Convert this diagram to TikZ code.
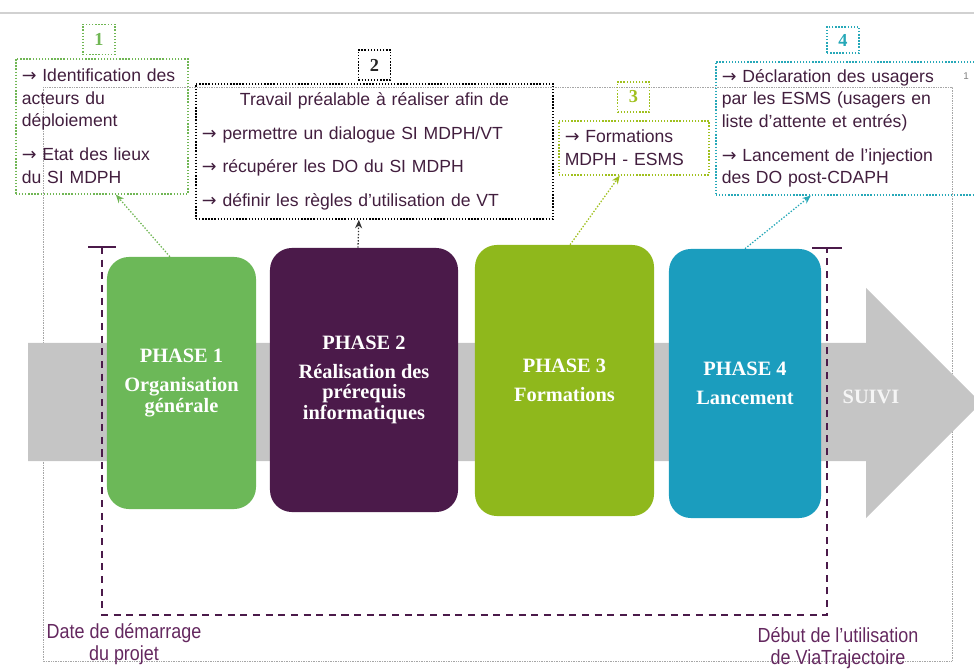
\documentclass[tikz,border=0pt]{standalone}
\usepackage{fontspec}
\setmainfont{Liberation Sans}
\newfontfamily\phasefont{Liberation Serif}
\newfontfamily\narrowfont[FakeStretch=0.88]{Liberation Sans}
\newfontfamily\arrowfont{DejaVu Sans}
\newcommand{\arr}{{\arrowfont →}}
\usepackage{tikz}
\usetikzlibrary{positioning, arrows.meta, calc}
\usepackage{xcolor}
\definecolor{phaseone}{RGB}{108, 184, 88}
\definecolor{phasetwo}{RGB}{75, 26, 74}
\definecolor{phasethree}{RGB}{143, 184, 28}
\definecolor{phasefour}{RGB}{27, 157, 190}
\definecolor{bandgray}{RGB}{197, 197, 197}
\definecolor{textpurple}{RGB}{66, 30, 62}
\definecolor{labelpurple}{RGB}{100, 40, 95}
\definecolor{notegreen}{RGB}{112, 182, 84}
\definecolor{notelime}{RGB}{160, 192, 30}
\definecolor{noteteal}{RGB}{38, 168, 184}

\begin{document}
\begin{tikzpicture}[
    x=0.025cm, y=-0.025cm,
    phase/.style={rounded corners=0.55cm, text=white, align=center, font=\phasefont\bfseries\fontsize{14.5}{14.5}\selectfont},
    note/.style={draw, line width=1.1pt, dash pattern=on 1pt off 1.2pt, anchor=north west, align=left, inner xsep=0.15cm, text=textpurple, font=\fontsize{12.5}{16}\selectfont},
    tag/.style={draw, line width=1.1pt, dash pattern=on 1pt off 1.2pt, minimum width=0.8cm, minimum height=0.75cm, inner sep=0pt, font=\phasefont\bfseries\fontsize{13}{13}\selectfont},
    link/.style={line width=0.9pt, dash pattern=on 1pt off 1.2pt, -{Stealth[length=6pt, width=5pt]}},
    bracket/.style={draw=phasetwo, line width=1.3pt}
]
    \clip (0,0) rectangle (974,669);

    % Frame and top rule
    \draw[black!18, line width=1.8pt] (0,13) -- (974,13);
    \draw[gray!70, line width=0.4pt, dash pattern=on 0.5pt off 0.7pt] (43,87) rectangle (952,661);
    \node[text=gray, font=\fontsize{7}{7}\selectfont] (pagenum) at (966,76) {1};

    % Timeline arrow
    \fill[bandgray] (28,343) -- (866,343) -- (866,288) -- (981,403) -- (866,518) -- (866,461) -- (28,461) -- cycle;
    \node[phase, text=white!92!gray] (suivi) at (871,397) {SUIVI};

    % Phases
    \foreach \n/\cx/\cy/\w/\h/\col/\txt in {
        1/181.5/383/3.725/6.3/phaseone/{PHASE 1\\[6pt]Organisation\\générale},
        2/364/380/4.7/6.6/phasetwo/{PHASE 2\\[6pt]Réalisation des\\prérequis\\informatiques},
        3/564.5/380.5/4.475/6.775/phasethree/{PHASE 3\\[6pt]Formations},
        4/745/383.5/3.8/6.725/phasefour/{PHASE 4\\[6pt]Lancement}} {
        \node[phase, fill=\col, minimum width=\w cm, minimum height=\h cm] (p\n) at (\cx,\cy) {\txt};
    }

    % Notes
    \node[note, draw=notegreen, text width=4.0cm, minimum height=3.375cm] (note1) at (15,58)
        {\arr{} Identification des\\acteurs du\\déploiement\\[8pt]\arr{} Etat des lieux\\du SI MDPH};
    \node[note, draw=black, line width=1.3pt, text width=8.625cm, minimum height=3.375cm, font=\fontsize{12.5}{24}\selectfont] (note2) at (195,83)
        {\makebox[\linewidth][c]{Travail préalable à réaliser afin de}\\\arr{} permettre un dialogue SI MDPH/VT\\\arr{} récupérer les DO du SI MDPH\\\arr{} définir les règles d’utilisation de VT};
    \node[note, draw=notelime, text width=3.45cm, minimum height=1.35cm] (note3) at (558,120)
        {\arr{} Formations\\MDPH - ESMS};
    \node[note, draw=noteteal, text width=6.45cm, minimum height=3.325cm] (note4) at (715,61)
        {\arr{} Déclaration des usagers\\par les ESMS (usagers en\\liste d’attente et entrés)\\[8pt]\arr{} Lancement de l’injection\\des DO post-CDAPH};

    % Number tags
    \node[tag, draw=notegreen, text=notegreen] (tag1) at (99,39.5) {1};
    \node[tag, draw=black, text=black!85] (tag2) at (374.5,65) {2};
    \node[tag, draw=notelime, text=notelime] (tag3) at (633.5,97) {3};
    \node[tag, draw=noteteal, text=noteteal, minimum height=0.65cm] (tag4) at (843,40) {4};

    % Links from phases to notes
    \draw[link, notegreen] ([xshift=-0.29cm]p1.north) -- ([xshift=0.35cm]note1.south);
    \draw[link, black!80] ([xshift=-0.15cm]p2.north) -- ([xshift=-0.39cm]note2.south);
    \draw[link, notelime] ([xshift=0.14cm]p3.north) -- ([xshift=-0.35cm]note3.south);
    \draw[link, noteteal] (p4.north) -- ([xshift=-1cm]note4.south);

    % Project span
    \draw[bracket] (88,247) -- (116,247);
    \draw[bracket] (812,248) -- (842,248);
    \draw[bracket, dash pattern=on 5pt off 4pt] (102,247) -- (102,615) -- (827,615) -- (827,248);

    % Milestones
    \node[text=labelpurple, align=center, font=\narrowfont\fontsize{14.5}{15.6}\selectfont] (start) at (124,644) {Date de démarrage\\du projet};
    \node[text=labelpurple, align=center, font=\narrowfont\fontsize{14.5}{15.6}\selectfont] (golive) at (838,648) {Début de l’utilisation\\de ViaTrajectoire};
\end{tikzpicture}
\end{document}
